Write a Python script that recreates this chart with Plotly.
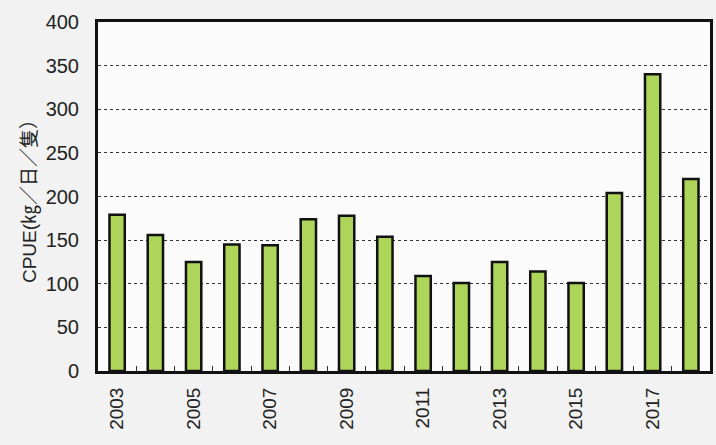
import plotly.graph_objects as go

years = list(range(2003, 2019))
cpue = [179, 156, 125, 145, 144, 174, 178, 154, 109, 101, 125, 114, 101, 204, 340, 220]
label_years = [2003, 2005, 2007, 2009, 2011, 2013, 2015, 2017]
y_ticks = [0, 50, 100, 150, 200, 250, 300, 350, 400]

fig = go.Figure()
fig.add_trace(go.Bar(
    x=years, y=cpue,
    marker=dict(color="#acd55a", line=dict(color="#111111", width=2.5)),
    width=0.4,
))

fig.update_layout(
    width=716, height=445,
    margin=dict(l=98, r=3, t=22, b=74),
    paper_bgcolor="#f1f2f1",
    plot_bgcolor="#fafbfa",
    showlegend=False,
    font=dict(family="Liberation Sans, Arial, sans-serif", color="#222222"),
    xaxis=dict(
        range=[years[0] - 0.5, years[-1] + 0.5],
        tickvals=label_years,
        ticktext=[str(v) for v in label_years],
        tickangle=-90,
        ticks="",
        ticklabelstandoff=6,
        tickfont=dict(size=19),
        showgrid=False,
        showline=True, linecolor="#111111", linewidth=3, mirror=True,
        minor=dict(tickvals=[y + 0.5 for y in years[:-1]], ticks="inside",
                   ticklen=5, tickcolor="#333333", tickwidth=1, showgrid=False),
        zeroline=False,
    ),
    yaxis=dict(
        range=[0, 400],
        tickvals=y_ticks,
        tickfont=dict(size=20),
        ticks="",
        ticklabelstandoff=12,
        showgrid=True, gridcolor="#333333", griddash="dot", gridwidth=1,
        showline=True, linecolor="#111111", linewidth=3, mirror=True,
        zeroline=False,
        title=dict(text="CPUE(㎏／日／隻）",
                   font=dict(size=19, family="Liberation Sans, Noto Sans CJK JP, sans-serif"),
                   standoff=4),
    ),
)

fig.write_html("out.html")
